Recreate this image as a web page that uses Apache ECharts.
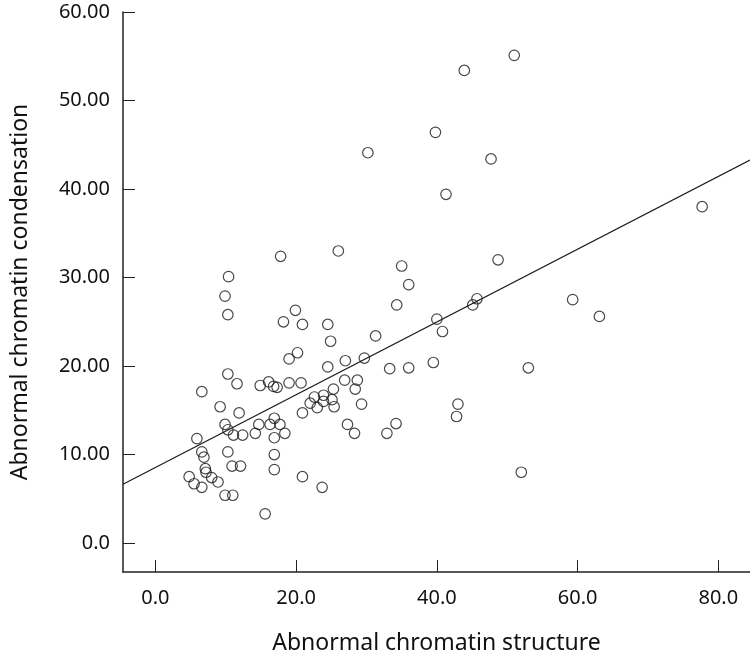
<!DOCTYPE html>
<html>
<head>
<meta charset="utf-8">
<script src="https://cdn.jsdelivr.net/npm/echarts@6/dist/echarts.min.js"></script>
<style>
html,body{margin:0;padding:0;background:#fff;}
#chart{width:750px;height:659px;}
</style>
</head>
<body>
<div id="chart"></div>
<script>
// Data
const xValues = [51.0,43.9,39.8,30.2,47.7,41.3,77.7,17.8,26.0,10.4,9.9,35.0,36.0,48.7,45.7,45.1,59.3,34.3,40.0,40.8,
  31.3,27.0,29.7,33.3,36.0,39.5,53.0,26.9,28.7,28.4,25.3,25.1,25.4,29.3,43.0,42.8,27.3,28.3,34.2,32.9,
  10.3,19.9,18.2,20.9,24.5,24.9,20.2,19.0,24.5,10.3,11.6,14.9,16.1,16.8,17.3,19.0,20.7,6.6,9.2,11.9,
  9.9,10.3,11.1,12.4,14.2,14.7,16.3,16.9,17.7,18.4,16.9,5.9,20.9,22.0,22.6,23.0,23.9,23.9,6.6,6.9,
  10.3,16.9,7.1,7.2,10.9,12.1,16.9,4.8,8.0,8.9,5.5,6.6,20.9,23.7,9.9,11.0,15.6,52.0,63.1];
const yValues = [55.1,53.4,46.4,44.1,43.4,39.4,38.0,32.4,33.0,30.1,27.9,31.3,29.2,32.0,27.6,26.9,27.5,26.9,25.3,23.9,
  23.4,20.6,20.9,19.7,19.8,20.4,19.8,18.4,18.4,17.4,17.4,16.2,15.4,15.7,15.7,14.3,13.4,12.4,13.5,12.4,
  25.8,26.3,25.0,24.7,24.7,22.8,21.5,20.8,19.9,19.1,18.0,17.8,18.2,17.7,17.6,18.1,18.1,17.1,15.4,14.7,
  13.4,12.8,12.2,12.2,12.4,13.4,13.4,14.1,13.4,12.4,11.9,11.8,14.7,15.8,16.5,15.3,16.7,16.0,10.3,9.7,
  10.3,10.0,8.4,8.0,8.7,8.7,8.3,7.5,7.4,6.9,6.7,6.3,7.5,6.3,5.4,5.4,3.3,8.0,25.6];
// Fitted line end points
const fitLineX = [-4.6, 84.5];
const fitLineY = [6.65, 43.27];
// Tick labels
const xTicks = [0, 20, 40, 60, 80];
const yTicks = [0, 10, 20, 30, 40, 50, 60];
const xTitle = 'Abnormal chromatin structure';
const yTitle = 'Abnormal chromatin condensation';

const points = xValues.map((x, i) => [x, yValues[i]]);
const fitLine = fitLineX.map((x, i) => [x, fitLineY[i]]);

const FONT = '"Noto Sans", sans-serif';
const ink = '#111';

const chart = echarts.init(document.getElementById('chart'), null, {renderer: 'canvas'});
chart.setOption({
  animation: false,
  backgroundColor: '#fff',
  grid: {left: 123, right: 0, top: 12, bottom: 87, containLabel: false, outerBoundsMode: 'none'},
  xAxis: {
    type: 'value',
    min: -4.6, max: 84.5,
    name: xTitle,
    nameLocation: 'middle',
    nameGap: 60,
    nameTextStyle: {fontFamily: FONT, fontSize: 23, color: ink},
    axisLine: {show: true, onZero: false, lineStyle: {color: '#222', width: 1.5}},
    axisTick: {show: true, inside: true, length: 12, customValues: xTicks, lineStyle: {color: '#222', width: 1}},
    axisLabel: {show: true, customValues: xTicks, margin: 16, fontFamily: FONT, fontSize: 20, color: ink,
      formatter: v => v.toFixed(1)},
    splitLine: {show: false}
  },
  yAxis: {
    type: 'value',
    min: -3.27, max: 60,
    name: yTitle,
    nameLocation: 'middle',
    nameGap: 91,
    nameTextStyle: {fontFamily: FONT, fontSize: 23, color: ink},
    axisLine: {show: true, onZero: false, lineStyle: {color: '#222', width: 1.5}},
    axisTick: {show: true, inside: true, length: 12, customValues: yTicks, lineStyle: {color: '#222', width: 1}},
    axisLabel: {show: true, customValues: yTicks, margin: 13, fontFamily: FONT, fontSize: 20, color: ink,
      formatter: v => (v === 0 ? '0.0' : v.toFixed(2))},
    splitLine: {show: false}
  },
  series: [
    {
      type: 'scatter',
      data: points,
      symbol: 'circle',
      symbolSize: 10.5,
      itemStyle: {color: 'rgba(255,255,255,0)', borderColor: '#1a1a1a', borderWidth: 1.2},
      silent: true
    },
    {
      type: 'line',
      data: fitLine,
      symbol: 'none',
      lineStyle: {color: '#1a1a1a', width: 1.2},
      clip: true,
      silent: true
    }
  ]
});
</script>
</body>
</html>
